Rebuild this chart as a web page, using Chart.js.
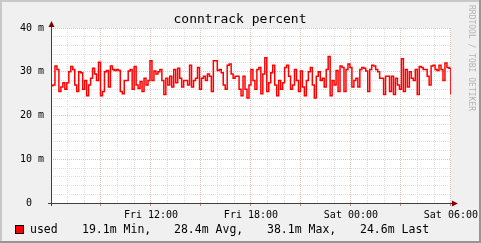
<!DOCTYPE html>
<html>
<head>
<meta charset="utf-8">
<script src="https://cdn.jsdelivr.net/npm/chart.js@4"></script>
<style>
  html, body { margin: 0; padding: 0; background: #f0f0f0; }
  canvas { display: block; }
</style>
</head>
<body>
<canvas id="myChart" width="481" height="243"></canvas>
<script>
// hours since Fri 06:00 -> label
const hourLabels = {6: 'Fri 12:00', 12: 'Fri 18:00', 18: 'Sat 00:00', 24: 'Sat 06:00'};
const yLabels = {40: '40 m', 30: '30 m', 20: '20 m', 10: '10 m', 0: '0  '};
const legendStats = ['19.1m Min,', '28.4m Avg,', '38.1m Max,', '24.6m Last'];

// conntrack "used", in milli-units
const used = [
  26.8, 27, 31.3, 30.5, 25.5, 26.5, 27.5, 26, 27.5, 30, 31.2, 30.5, 27, 25.5, 30, 29.8, 26, 28, 24.5, 27, 28.5, 30.8, 29.5, 28, 32.2, 24.5, 25.5, 30, 30.3, 26.5, 31.3, 30.5, 30.3, 30.5,
  30.3, 25.5, 25, 28, 28, 30.2, 30.5, 26, 31.2, 27, 26.2, 27.8, 25.5, 28.5, 27, 28, 32.5, 28, 30.2, 29.5, 30, 30.5, 28, 24.8, 28.5, 27, 29, 26.5, 30.5, 27.5, 30.8, 28.5, 26.5, 28,
  28, 27, 31.5, 26.5, 28, 28.5, 31, 26, 28.5, 29, 28, 29.5, 29, 25.5, 32.5, 32.5, 30.3, 30.5, 29.8, 27, 26, 31.5, 31.8, 29.5, 28.5, 29, 29, 26, 24.5, 29, 26, 24, 27, 30.5,
  28, 26, 30.5, 31, 25, 29.5, 33.2, 25.5, 27.5, 29.8, 31.5, 27, 24.5, 28, 26, 27.5, 31, 31.5, 29, 26, 27, 30.5, 28, 25.5, 30.2, 26.5, 24.5, 28, 30, 31, 27, 24, 29, 30,
  28, 28.5, 26.5, 30.5, 33.5, 24.5, 28, 27, 30.3, 25.5, 31.3, 31, 25.5, 30.5, 31.8, 31, 26.5, 28, 28.5, 26.5, 30.5, 31, 30.8, 30.2, 25.5, 30.5, 31.5, 31.3, 30.5, 30, 28.5, 28.5, 24.8, 29,
  29, 25.5, 29, 24.8, 28.5, 27, 26, 33, 25.5, 30.5, 26.5, 30, 28.5, 28, 30.5, 24.8, 31.2, 31, 30.5, 30.5, 29, 27, 31.3, 31.5, 30.5, 30.3, 31.5, 30.5, 28, 32, 31, 30.8, 24.8
];

const points = used.map((v, i) => ({x: i * 24 / (used.length - 1), y: v}));

const MONO = '"DejaVu Sans Mono", monospace';
const GRID = '#e0e0e0';
const MGRID = '#dec3c3';

const rrdLook = {
  id: 'rrdLook',
  beforeDraw(chart) {
    const {ctx, chartArea: a, width, height} = chart;
    ctx.save();
    ctx.fillStyle = '#f0f0f0';
    ctx.fillRect(0, 0, width, height);
    // frame
    ctx.fillStyle = '#c8c8c8';
    ctx.fillRect(0, 0, width, 2);
    ctx.fillRect(0, 0, 2, height);
    ctx.fillStyle = '#969696';
    ctx.fillRect(0, height - 2, width, 2);
    ctx.fillRect(width - 2, 0, 2, height);
    ctx.fillStyle = '#ffffff';
    ctx.fillRect(a.left, a.top, a.right - a.left, a.bottom - a.top);
    ctx.restore();
  },
  afterDraw(chart) {
    const {ctx, chartArea: a} = chart;
    ctx.save();
    // axes
    ctx.strokeStyle = '#404040';
    ctx.lineWidth = 1;
    ctx.beginPath();
    ctx.moveTo(a.left - 3, a.bottom + 0.5);
    ctx.lineTo(a.right + 4, a.bottom + 0.5);
    ctx.moveTo(a.left + 0.5, a.bottom + 3);
    ctx.lineTo(a.left + 0.5, a.top - 4);
    ctx.stroke();
    // arrows
    ctx.fillStyle = '#800000';
    ctx.beginPath();
    ctx.moveTo(a.right + 7, a.bottom + 0.5);
    ctx.lineTo(a.right + 1, a.bottom - 2.5);
    ctx.lineTo(a.right + 1, a.bottom + 3.5);
    ctx.fill();
    ctx.beginPath();
    ctx.moveTo(a.left + 0.5, a.top - 7);
    ctx.lineTo(a.left - 2.5, a.top - 1);
    ctx.lineTo(a.left + 3.5, a.top - 1);
    ctx.fill();
    // title
    ctx.fillStyle = '#000';
    ctx.font = '13px ' + MONO;
    ctx.textAlign = 'center';
    ctx.textBaseline = 'alphabetic';
    ctx.fillText('conntrack percent', 240, 23);
    // legend
    ctx.fillStyle = '#ff0000';
    ctx.fillRect(15, 225, 9, 9);
    ctx.strokeStyle = '#000';
    ctx.strokeRect(15.5, 225.5, 8, 8);
    ctx.fillStyle = '#000';
    ctx.font = '11.5px ' + MONO;
    ctx.textAlign = 'left';
    ctx.fillText('used', 30, 233);
    const statX = [82, 174, 267, 360];
    legendStats.forEach((s, i) => ctx.fillText(s, statX[i], 233));
    // watermark
    ctx.translate(467, 5);
    ctx.rotate(Math.PI / 2);
    ctx.fillStyle = '#b4b4b4';
    ctx.font = '8px ' + MONO;
    ctx.textBaseline = 'middle';
    ctx.fillText('RRDTOOL / TOBI OETIKER', 0, -4);
    ctx.restore();
  }
};

new Chart(document.getElementById('myChart'), {
  type: 'line',
  data: {
    datasets: [{
      label: 'used',
      data: points,
      borderColor: '#ff0000',
      borderWidth: 1.5,
      pointRadius: 0,
      stepped: true,
      fill: false
    }]
  },
  options: {
    responsive: false,
    animation: false,
    devicePixelRatio: 1,
    layout: { padding: { top: 28, right: 30, left: 0, bottom: 0 } },
    plugins: { legend: { display: false }, tooltip: { enabled: false } },
    scales: {
      x: {
        type: 'linear',
        min: 0,
        max: 24,
        afterFit: (scale) => { scale.height = 40; },
        ticks: {
          stepSize: 1,
          autoSkip: false,
          maxRotation: 0,
          padding: 3,
          color: '#000',
          font: { family: MONO, size: 10 },
          callback: (v) => hourLabels[v] || ''
        },
        grid: {
          color: (c) => (c.tick.value % 3 === 0 ? MGRID : GRID),
          tickColor: (c) => (c.tick.value % 3 === 0 ? '#c88080' : 'rgba(0,0,0,0)'),
          tickLength: 3
        },
        border: { display: false, dash: [1, 1] }
      },
      y: {
        min: 0,
        max: 40,
        afterFit: (scale) => { scale.width = 51; },
        ticks: {
          stepSize: 2,
          autoSkip: false,
          padding: 7,
          color: '#000',
          font: { family: MONO, size: 10 },
          callback: (v) => (v in yLabels ? yLabels[v] : '')
        },
        grid: {
          color: (c) => (c.tick.value % 10 === 0 ? MGRID : GRID),
          drawTicks: false
        },
        border: { display: false, dash: [1, 1] }
      }
    }
  },
  plugins: [rrdLook]
});
</script>
</body>
</html>
